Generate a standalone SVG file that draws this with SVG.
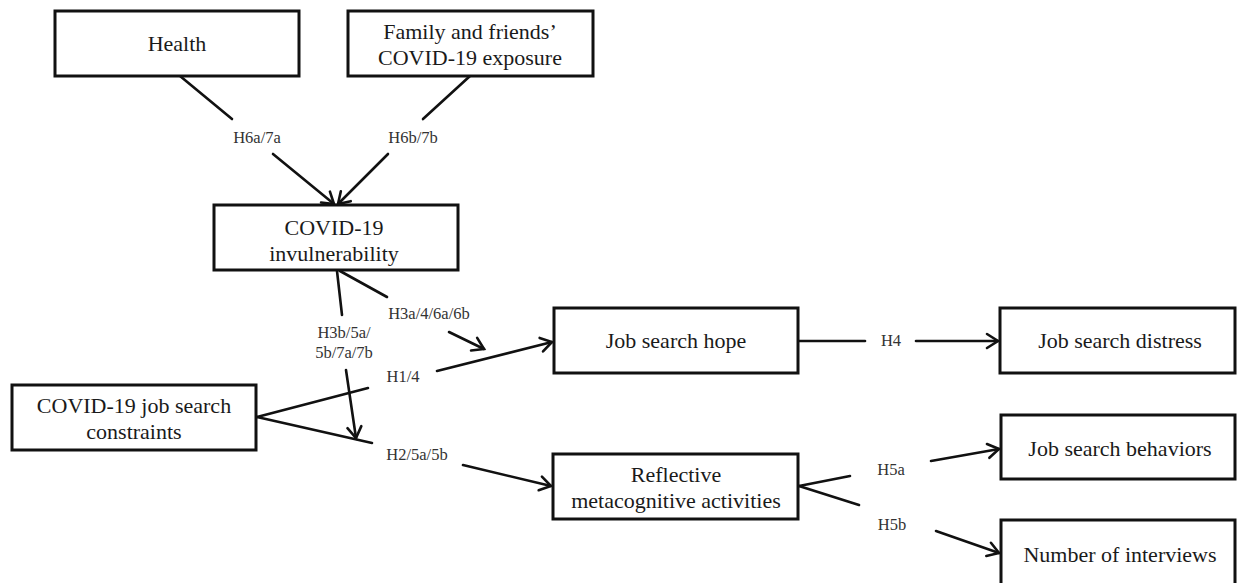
<svg xmlns="http://www.w3.org/2000/svg" width="1237" height="583" viewBox="0 0 1237 583">
<defs>
<marker id="arr" markerUnits="userSpaceOnUse" markerWidth="30" markerHeight="30" viewBox="-15 -15 30 30" refX="0" refY="0" orient="auto" overflow="visible">
<path d="M-11,-7 L0,0 L-11,7" fill="none" stroke="#111" stroke-width="2.6" stroke-linejoin="miter" stroke-linecap="round"/>
</marker>
<style>
.box{fill:#fff;stroke:#111;stroke-width:3}
.t{font-family:"Liberation Serif","Times New Roman",serif;font-size:22px;fill:#1a1a1a;text-anchor:middle}
.lb{font-family:"Liberation Serif","Times New Roman",serif;font-size:16.5px;fill:#333;text-anchor:middle}
.ln{stroke:#111;stroke-width:2.6;fill:none;stroke-linecap:round}
.ar{stroke:#111;stroke-width:2.6;fill:none;stroke-linecap:round;marker-end:url(#arr)}
</style>
</defs>
<rect width="1237" height="583" fill="#fff"/>

<g id="connectors">
<line class="ln" x1="180" y1="76" x2="232" y2="119"/>
<line class="ar" x1="273" y1="154" x2="334" y2="204"/>
<line class="ln" x1="470" y1="76" x2="423" y2="119"/>
<line class="ar" x1="388" y1="154" x2="338" y2="204"/>
<line class="ln" x1="337" y1="271" x2="342" y2="315"/>
<line class="ln" x1="340" y1="271" x2="387" y2="297"/>
<line class="ar" x1="346" y1="370" x2="356" y2="438"/>
<line class="ar" x1="449" y1="332" x2="484" y2="349"/>
<line class="ln" x1="257" y1="417" x2="368" y2="388"/>
<line class="ar" x1="437" y1="371" x2="552" y2="342"/>
<line class="ln" x1="257" y1="417" x2="372" y2="443"/>
<line class="ar" x1="463" y1="465" x2="551" y2="486"/>
<line class="ln" x1="799" y1="341" x2="865" y2="341"/>
<line class="ar" x1="916" y1="341" x2="998" y2="341"/>
<line class="ln" x1="799" y1="486" x2="850" y2="476"/>
<line class="ln" x1="799" y1="486" x2="859" y2="505"/>
<line class="ar" x1="931" y1="461" x2="999" y2="449"/>
<line class="ar" x1="936" y1="531" x2="999" y2="553"/>
<text class="lb" x="257" y="143">H6a/7a</text>
<text class="lb" x="413" y="143">H6b/7b</text>
<text class="lb" x="429" y="319">H3a/4/6a/6b</text>
<text class="lb" x="344" y="338">H3b/5a/</text>
<text class="lb" x="344" y="358">5b/7a/7b</text>
<text class="lb" x="403" y="382">H1/4</text>
<text class="lb" x="417" y="460">H2/5a/5b</text>
<text class="lb" x="891" y="346">H4</text>
<text class="lb" x="891" y="475">H5a</text>
<text class="lb" x="892" y="530">H5b</text>
</g>

<g id="health">
<rect class="box" x="55" y="11" width="244" height="65"/>
<text class="t" x="177" y="51">Health</text>
</g>
<g id="family">
<rect class="box" x="348" y="11" width="245" height="65"/>
<text class="t" x="470" y="39">Family and friends’</text>
<text class="t" x="470" y="65">COVID-19 exposure</text>
</g>
<g id="invulnerability">
<rect class="box" x="214" y="205" width="244" height="65"/>
<text class="t" x="334" y="235">COVID-19</text>
<text class="t" x="334" y="261">invulnerability</text>
</g>
<g id="constraints">
<rect class="box" x="12" y="385" width="244" height="65"/>
<text class="t" x="134" y="413">COVID-19 job search</text>
<text class="t" x="134" y="439">constraints</text>
</g>
<g id="hope">
<rect class="box" x="554" y="308" width="244" height="65"/>
<text class="t" x="676" y="348">Job search hope</text>
</g>
<g id="reflective">
<rect class="box" x="553" y="454" width="245" height="65"/>
<text class="t" x="676" y="482">Reflective</text>
<text class="t" x="676" y="508">metacognitive activities</text>
</g>
<g id="distress">
<rect class="box" x="1000" y="308" width="235" height="65"/>
<text class="t" x="1120" y="348">Job search distress</text>
</g>
<g id="behaviors">
<rect class="box" x="1001" y="415" width="234" height="64"/>
<text class="t" x="1120" y="456">Job search behaviors</text>
</g>
<g id="interviews">
<rect class="box" x="1001" y="520" width="234" height="75"/>
<text class="t" x="1120" y="562">Number of interviews</text>
</g>
</svg>
